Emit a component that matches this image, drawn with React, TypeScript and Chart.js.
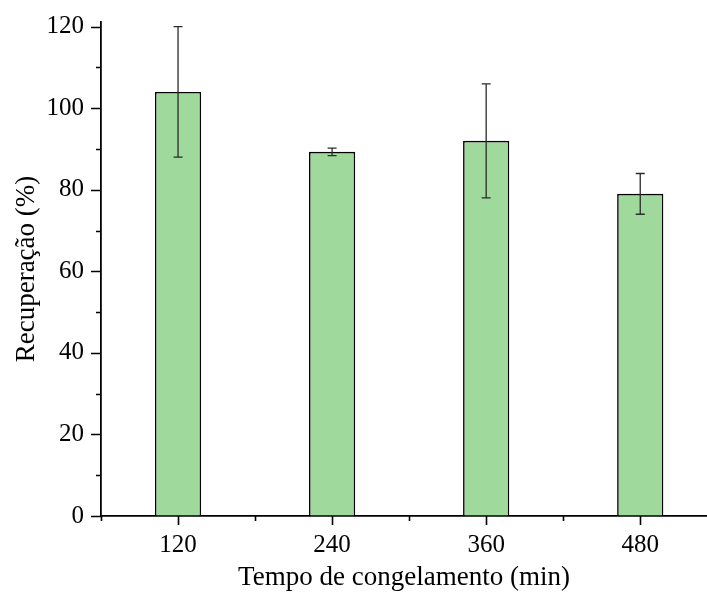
import React, { useEffect, useRef } from "react";
import { Chart, registerables } from "chart.js";

Chart.register(...registerables);

// Freezing time (min) and recovery (%) with standard deviation
const tempos = [120, 240, 360, 480];
const recuperacao = [104, 89.3, 92, 79];
const desvio = [16, 0.9, 14, 5];

const yMajorTicks = [0, 20, 40, 60, 80, 100, 120];
const yMinorTicks = [10, 30, 50, 70, 90, 110];
const xMinorTicks = [60, 180, 300, 420];

const SERIF = "'Liberation Serif', 'Times New Roman', serif";

// Draws error whiskers and the outward major/minor tick marks
const extrasPlugin = {
  id: "extras",
  afterDatasetsDraw(chart: any) {
    const { ctx } = chart;
    const xs = chart.scales.x;
    const ys = chart.scales.y;
    ctx.save();
    ctx.strokeStyle = "#2b2b2b";
    ctx.lineWidth = 1.3;
    const cap = 4.5;
    tempos.forEach((t, i) => {
      const x = xs.getPixelForValue(t);
      const yHi = ys.getPixelForValue(recuperacao[i] + desvio[i]);
      const yLo = ys.getPixelForValue(recuperacao[i] - desvio[i]);
      ctx.beginPath();
      ctx.moveTo(x, yHi);
      ctx.lineTo(x, yLo);
      ctx.moveTo(x - cap, yHi);
      ctx.lineTo(x + cap, yHi);
      ctx.moveTo(x - cap, yLo);
      ctx.lineTo(x + cap, yLo);
      ctx.stroke();
    });
    ctx.restore();
  },
  afterDraw(chart: any) {
    const { ctx, chartArea } = chart;
    const xs = chart.scales.x;
    const ys = chart.scales.y;
    ctx.save();
    ctx.strokeStyle = "#000000";
    ctx.lineWidth = 1.6;
    ctx.beginPath();
    yMajorTicks.forEach((v) => {
      const y = Math.round(ys.getPixelForValue(v)) + 0.5;
      ctx.moveTo(chartArea.left - 10, y);
      ctx.lineTo(chartArea.left, y);
    });
    yMinorTicks.forEach((v) => {
      const y = Math.round(ys.getPixelForValue(v)) + 0.5;
      ctx.moveTo(chartArea.left - 5, y);
      ctx.lineTo(chartArea.left, y);
    });
    tempos.forEach((v) => {
      const x = Math.round(xs.getPixelForValue(v)) + 0.5;
      ctx.moveTo(x, chartArea.bottom);
      ctx.lineTo(x, chartArea.bottom + 9);
    });
    xMinorTicks.forEach((v) => {
      const x = Math.round(xs.getPixelForValue(v)) + 0.5;
      ctx.moveTo(x, chartArea.bottom);
      ctx.lineTo(x, chartArea.bottom + 5);
    });
    ctx.stroke();
    ctx.restore();
  },
};

export default function App() {
  const canvasRef = useRef<HTMLCanvasElement | null>(null);

  useEffect(() => {
    if (!canvasRef.current) return;
    const chart = new Chart(canvasRef.current, {
      type: "bar",
      data: {
        datasets: [
          {
            data: tempos.map((t, i) => ({ x: t, y: recuperacao[i] })),
            backgroundColor: "#A0D99C",
            borderColor: "#000000",
            borderWidth: 1.6,
            categoryPercentage: 0.3,
            barPercentage: 1,
          },
        ],
      },
      options: {
        animation: false,
        responsive: false,
        layout: { padding: { top: 20, right: 0, left: 0, bottom: 0 } },
        plugins: {
          legend: { display: false },
          tooltip: { enabled: false },
        },
        scales: {
          x: {
            type: "linear",
            offset: false,
            min: 60,
            max: 532,
            afterBuildTicks(scale: any) {
              scale.ticks = tempos.map((v) => ({ value: v }));
            },
            afterFit(scale: any) {
              scale.height = 79;
            },
            grid: {
              drawOnChartArea: false,
              drawTicks: true,
              tickLength: 9,
              tickColor: "rgba(0,0,0,0)",
            },
            border: { display: true, color: "#000000", width: 1.8 },
            ticks: {
              autoSkip: false,
              maxRotation: 0,
              padding: 5,
              color: "#000000",
              font: { family: SERIF, size: 25 },
              callback: (v: any) => String(v),
            },
            title: {
              display: true,
              text: "Tempo de congelamento (min)",
              color: "#000000",
              font: { family: SERIF, size: 27 },
              padding: { top: 0, bottom: 1 },
            },
          },
          y: {
            type: "linear",
            min: 0,
            max: 121.15,
            afterBuildTicks(scale: any) {
              scale.ticks = yMajorTicks.map((v) => ({ value: v }));
            },
            afterFit(scale: any) {
              scale.width = 101;
            },
            grid: {
              drawOnChartArea: false,
              drawTicks: true,
              tickLength: 10,
              tickColor: "rgba(0,0,0,0)",
            },
            border: { display: true, color: "#000000", width: 1.8 },
            ticks: {
              autoSkip: false,
              padding: 7,
              color: "#000000",
              font: { family: SERIF, size: 25 },
              callback: (v: any) => String(v),
            },
            title: {
              display: true,
              text: "Recuperação (%)",
              color: "#000000",
              font: { family: SERIF, size: 27 },
              padding: { top: 11, bottom: 0 },
            },
          },
        },
      },
      plugins: [extrasPlugin],
    });
    return () => chart.destroy();
  }, []);

  return (
    <div style={{ position: "absolute", left: 0, top: 0, width: 707, height: 595, background: "#ffffff" }}>
      <canvas ref={canvasRef} width={707} height={595} />
    </div>
  );
}
